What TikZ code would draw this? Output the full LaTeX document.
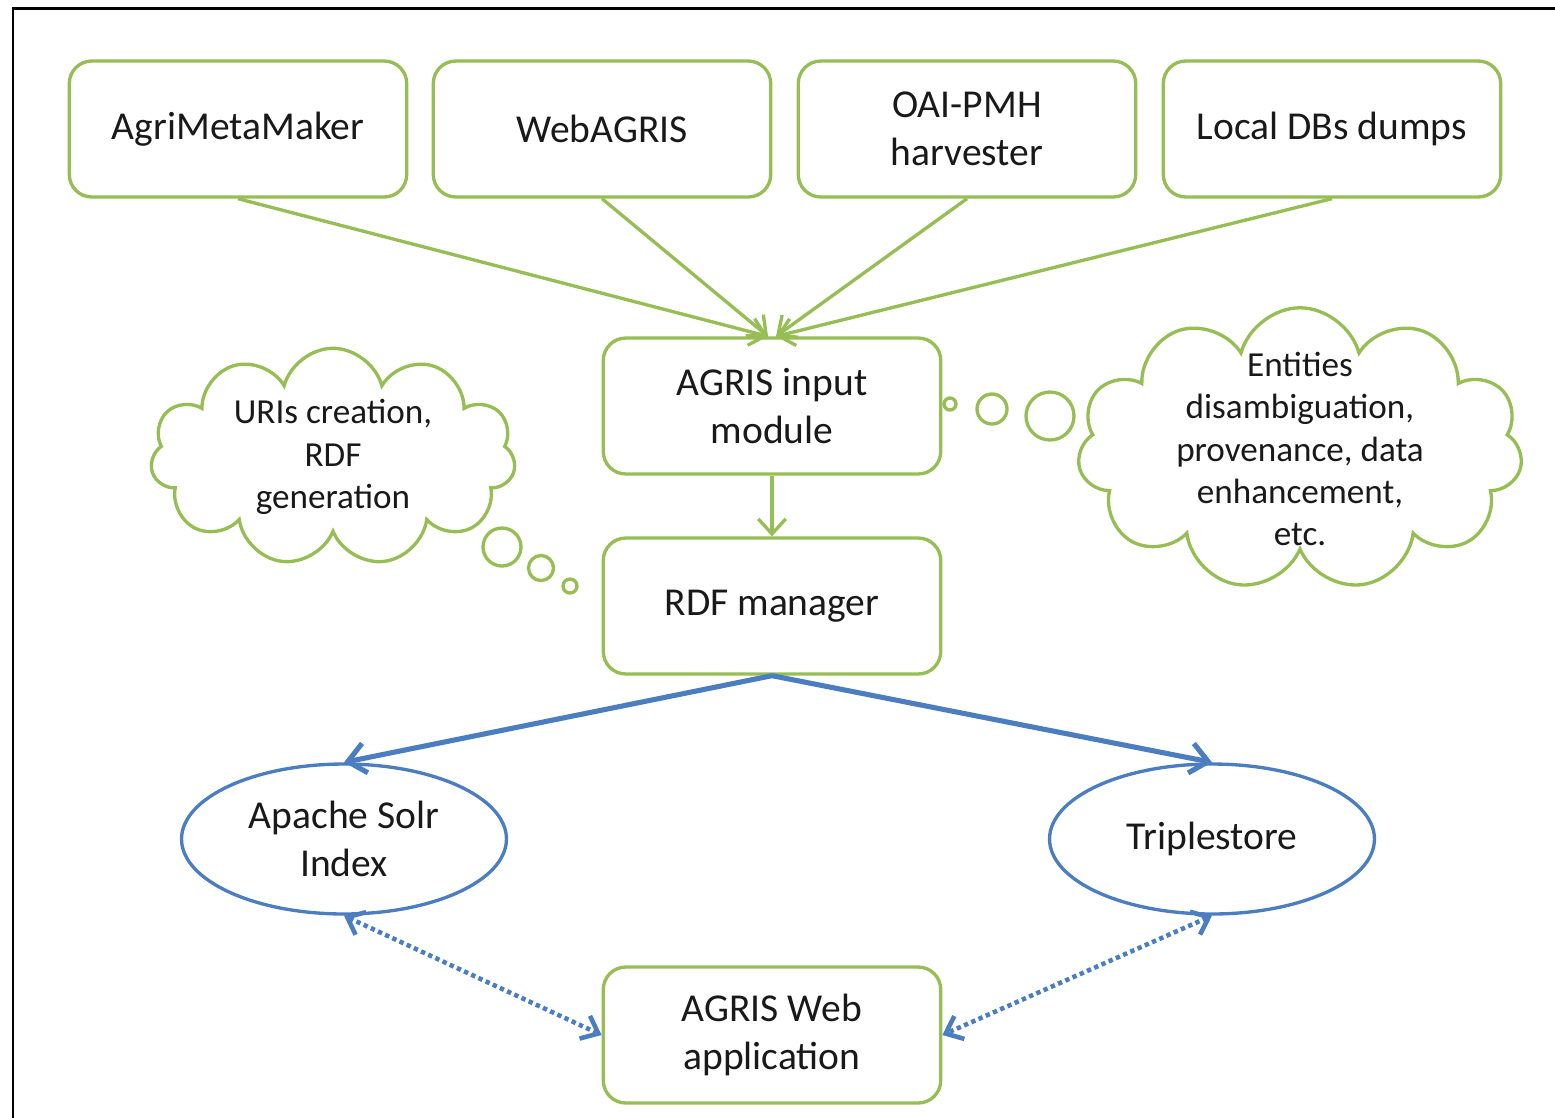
\documentclass[tikz,border=0pt]{standalone}
\usepackage{fontspec}
\setmainfont{Carlito}
\usetikzlibrary{shapes.symbols,shapes.geometric,arrows.meta}
\definecolor{agrigreen}{RGB}{150,190,85}
\definecolor{agriblue}{RGB}{74,126,192}

\begin{document}
\begin{tikzpicture}[x=0.02cm, y=-0.02cm,
          greenbox/.style={rectangle, rounded corners=0.45cm, draw=agrigreen, line width=1.9pt,
            minimum width=6.75cm, minimum height=2.72cm, align=center, text=black!90,
            font=\fontsize{22.5}{27}\selectfont},
          blueoval/.style={ellipse, draw=agriblue, line width=1.9pt, minimum width=6.5cm,
            minimum height=3.0cm, align=center, text=black!90, font=\fontsize{22.5}{27}\selectfont},
          thought/.style={cloud, cloud puffs=11, cloud ignores aspect, draw=agrigreen, line width=1.9pt,
            inner xsep=-0.5cm, inner ysep=-1.4cm,
            align=center, text=black!90, font=\fontsize{20}{24}\selectfont},
          feed/.style={draw=agrigreen, line width=1.9pt, -{Straight Barb[length=3mm, width=5.5mm]}},
          push/.style={draw=agriblue, line width=2.9pt, -{Straight Barb[length=3.5mm, width=6mm]}},
          query/.style={draw=agriblue, line width=2.6pt, dash pattern=on 2.5pt off 2pt,
            {Straight Barb[length=3mm, width=5mm]}-{Straight Barb[length=3mm, width=5mm]}}]

        \useasboundingbox (0,0) rectangle (1555,1117);
        \draw[line width=1.7pt] (13,1140) -- (13,8) -- (1570,8);

        % sources
        \node[greenbox] (amm) at (238,129)  {AgriMetaMaker};
        \node[greenbox] (wag) at (602,129)  {WebAGRIS};
        \node[greenbox] (oai) at (967,129)  {OAI-PMH\\harvester};
        \node[greenbox] (ldb) at (1332,129) {Local DBs dumps};

        \node[greenbox] (inp) at (772,406)  {AGRIS input\\module};
        \node[greenbox] (rdf) at (772,606)  {RDF manager};
        \node[greenbox] (app) at (772,1035) {AGRIS Web\\application};

        \node[blueoval] (solr) at (344,839)  {Apache Solr\\Index};
        \node[blueoval] (trip) at (1212,839) {Triplestore};

        % thoughts
        \node[thought, minimum width=7.3cm, minimum height=4.35cm] (uri) at (333,457)
              {URIs creation,\\RDF\\generation};
        \node[thought, minimum width=8.9cm, minimum height=5.65cm] (ent) at (1300,449)
              {Entities\\disambiguation,\\provenance, data\\enhancement,\\etc.};
        \draw[agrigreen, line width=1.9pt] (502,547) circle [radius=0.38cm]
                                           (541,568) circle [radius=0.25cm]
                                           (570,586) circle [radius=0.14cm];
        \draw[agrigreen, line width=1.9pt] (950,404)  circle [radius=0.12cm]
                                           (992,409)  circle [radius=0.3cm]
                                           (1050,416) circle [radius=0.48cm];

        \draw[feed] (amm.south) -- ([xshift=-0.08cm]inp.north);
        \draw[feed] (wag.south) -- ([xshift=-0.08cm]inp.north);
        \draw[feed] (oai.south) -- ([xshift=0.08cm]inp.north);
        \draw[feed] (ldb.south) -- ([xshift=0.08cm]inp.north);
        \draw[feed] (inp) -- (rdf);

        \draw[push] (rdf.south) -- (solr.north);
        \draw[push] (rdf.south) -- (trip.north);

        \draw[query] (solr.south) -- (app.west);
        \draw[query] (trip.south) -- (app.east);

      \end{tikzpicture}
\end{document}
